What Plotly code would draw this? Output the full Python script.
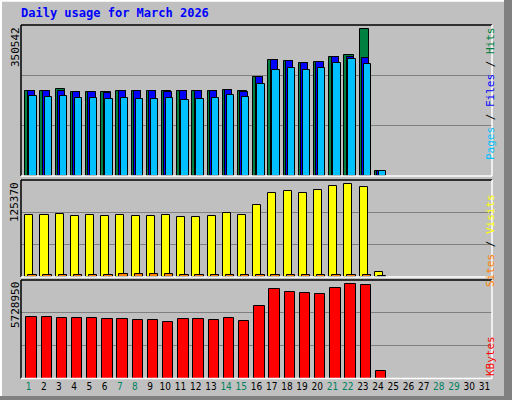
import plotly.graph_objects as go

days = list(range(1, 32))
hits = [197330,197330,201970,195010,195010,195010,197330,197330,197330,197330,197330,197330,197330,199650,197330,229130,269290,266270,261630,263950,275560,280900,340560,11600]
files = [197330,197330,198020,194310,194310,191990,197330,197330,197330,195010,197330,197330,197330,199650,195010,229130,269290,266270,261630,263950,275560,276950,273240,11600]
pages = [185020,182700,185020,181080,181080,178760,181080,178760,178760,181080,176420,178760,181080,187350,183400,212880,246080,250030,246080,250030,261630,270920,260010,11600]
visits = [79750,79750,81040,78450,79750,78450,79750,78450,78450,79750,77160,77160,78450,82330,79750,92670,108180,110770,108180,112060,117230,119820,115940,6075]
sites = [2585,2585,2585,2585,2585,2585,3900,3900,3900,3900,2585,2585,2585,2585,2585,2585,2585,2585,2585,2585,2585,2585,2585,1500]
kbytes = [3577000,3577000,3518000,3518000,3518000,3460000,3460000,3402000,3402000,3286000,3460000,3460000,3402000,3518000,3344000,4217000,5206000,5031000,4973000,4915000,5264000,5496000,5438000,436000]
max_top, max_mid, max_bot = 350542, 125370, 5728950
weekend = {1,7,8,14,15,21,22,28,29}

n = len(hits)
x = days[:n]
fig = go.Figure()
line = dict(color="black", width=1)
def bar(y, color, off, w, ax):
    fig.add_trace(go.Bar(x=x, y=y, offset=off, width=w, marker=dict(color=color, line=line),
                         xaxis="x" + ax, yaxis="y" + ax, showlegend=False, hoverinfo="skip"))
bar(hits, "#008040", -0.22, 0.62, "")
bar(files, "#0000ff", -0.06, 0.47, "")
bar(pages, "#00c0ff", 0.05, 0.48, "")
bar(visits, "#ffff00", -0.22, 0.53, "2")
bar(sites, "#ff8000", -0.02, 0.55, "2")
bar(kbytes, "#ff0000", -0.15, 0.68, "3")

x0, x1 = 21/512, 492/512
doms = {"": (1-176/400, 1-25/400), "2": (1-277/400, 1-180/400), "3": (1-378.5/400, 1-280/400)}
maxes = {"": max_top, "2": max_mid, "3": max_bot}
tt = [f"<span style='color:{'#008060' if d in weekend else 'black'}'>{d}</span>" for d in days]
layout = dict(width=512, height=400, margin=dict(l=0, r=0, t=0, b=0), paper_bgcolor="#c0c0c0",
              plot_bgcolor="#c0c0c0", bargap=0, font=dict(family="DejaVu Sans Mono", size=11, color="black"))
for ax, (a, b) in doms.items():
    M = maxes[ax]
    layout["xaxis" + ax] = dict(domain=[x0, x1], range=[0.5, 31.5], anchor="y" + ax, showgrid=False,
                                zeroline=False, tickmode="array", tickvals=days, tickangle=0,
                                ticktext=tt if ax == "3" else [""]*31, ticks="",
                                tickfont=dict(size=10, family="DejaVu Sans Condensed"))
    layout["yaxis" + ax] = dict(domain=[a, b], range=[0, M], anchor="x" + ax, tickvals=[M/3, 2*M/3],
                                showticklabels=False, gridcolor="#808080", gridwidth=1, zeroline=False)
fig.update_layout(**layout)

shapes = []
for ax, (a, b) in doms.items():
    shapes += [dict(type="line", xref="paper", yref="paper", x0=x0, x1=x1, y0=b, y1=b, line=dict(color="black", width=1.5)),
               dict(type="line", xref="paper", yref="paper", x0=x0, x1=x0, y0=a, y1=b, line=dict(color="black", width=1.5)),
               dict(type="line", xref="paper", yref="paper", x0=x1, x1=x1, y0=a, y1=b, line=dict(color="white", width=1.5)),
               dict(type="line", xref="paper", yref="paper", x0=x0, x1=x1, y0=a, y1=a, line=dict(color="white", width=1.5))]
shapes += [dict(type="line", xref="paper", yref="paper", x0=0.002, x1=0.002, y0=0, y1=1, line=dict(color="white", width=2)),
           dict(type="line", xref="paper", yref="paper", x0=0, x1=1, y0=0.998, y1=0.998, line=dict(color="white", width=2)),
           dict(type="rect", xref="paper", yref="paper", x0=504/512, x1=1, y0=0, y1=1, fillcolor="#808080", line=dict(width=0)),
           dict(type="rect", xref="paper", yref="paper", x0=0, x1=1, y0=0, y1=4/400, fillcolor="#808080", line=dict(width=0))]
fig.update_layout(shapes=shapes)

ann = [dict(text="<b>Daily usage for March 2026</b>", x=19/512, y=1-13/400, xanchor="left", yanchor="middle",
            font=dict(color="#0000ff", size=12))]
for ax, (a, b) in doms.items():
    ann.append(dict(text=str(maxes[ax]), x=15/512, y=b, xanchor="center", yanchor="top", textangle=-90,
                    font=dict(size=11)))
sl = "<span style='color:black'> / </span>"
ann.append(dict(text="<span style='color:#00c0ff'>Pages</span>" + sl + "<span style='color:#0000ff'>Files</span>" + sl +
                "<span style='color:#008040'>Hits</span>", x=499/512, y=doms[""][1], yanchor="top", textangle=-90))
ann.append(dict(text="<span style='color:#ff8000'>Sites</span>" + sl + "<span style='color:#ffff00'>Visits</span>",
                x=499/512, y=doms["2"][1]-0.03, yanchor="top", textangle=-90))
ann.append(dict(text="<span style='color:#ff0000'>KBytes</span>", x=499/512, y=doms["3"][0], yanchor="bottom", textangle=-90))
for a_ in ann:
    a_.update(xref="paper", yref="paper", showarrow=False)
fig.update_layout(annotations=ann)
fig.write_html("out.html", config={"displayModeBar": False},
               post_script="document.body.style.margin='0';document.body.style.overflow='hidden';")
